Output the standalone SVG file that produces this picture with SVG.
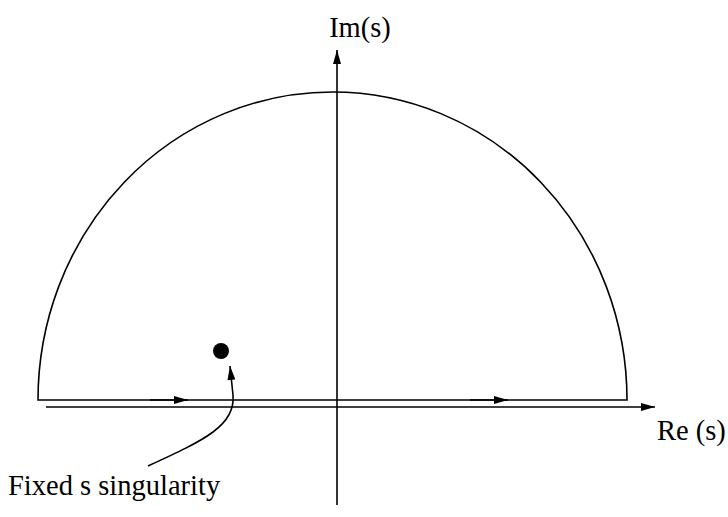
<svg xmlns="http://www.w3.org/2000/svg" width="728" height="517" viewBox="0 0 728 517">
<defs>
<marker id="ah" viewBox="0 0 14 8" refX="14" refY="4" markerWidth="15" markerHeight="8" markerUnits="userSpaceOnUse" orient="auto">
<path d="M0,0 L14,4 L0,8 Z" fill="#000"/>
</marker>
</defs>
<style>
.ln{fill:none;stroke:#000;stroke-width:1.6}
.t{font-family:"Liberation Serif","Times New Roman",serif;font-size:28.5px;fill:#000}
</style>
<rect width="728" height="517" fill="#fff"/>
<g id="connectors">
<path id="contour" class="ln" d="M38,400 A294.5,308 0 0 1 627,400 Z"/>
<path class="ln" d="M150,400 L188,400" marker-end="url(#ah)"/>
<path class="ln" d="M470,400 L508,400" marker-end="url(#ah)"/>
<path id="re-axis" class="ln" d="M46,407 L655,407" marker-end="url(#ah)"/>
<path id="im-axis" class="ln" d="M337,505 L337,50" marker-end="url(#ah)"/>
<path id="pointer" class="ln" d="M148,466 C205,440 236,425 233,395 L230,366" marker-end="url(#ah)"/>
</g>
<g id="singularity"><circle cx="221" cy="351" r="8" fill="#000"/></g>
<g id="labels">
<text class="t" x="360" y="37" text-anchor="middle">Im(s)</text>
<text class="t" x="657" y="440">Re (s)</text>
<text class="t" x="8" y="495">Fixed s singularity</text>
</g>
</svg>
